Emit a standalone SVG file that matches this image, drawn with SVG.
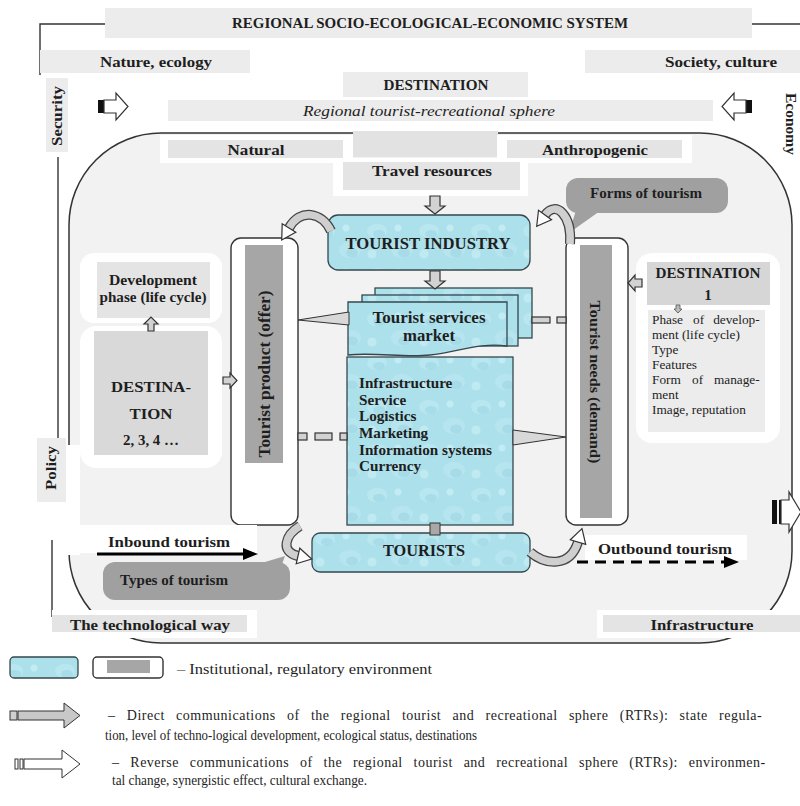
<svg xmlns="http://www.w3.org/2000/svg" width="800" height="806" viewBox="0 0 800 806">
<defs>
<pattern id="water" patternUnits="userSpaceOnUse" width="52" height="44">
<rect width="52" height="44" fill="#ace0eb"/>
<ellipse cx="13" cy="11" rx="10" ry="7" fill="#bde8f1" opacity="0.8"/>
<ellipse cx="38" cy="30" rx="11" ry="8" fill="#bae6f0" opacity="0.8"/>
<ellipse cx="15" cy="14" rx="6" ry="4" fill="#a0d8e6" opacity="0.7"/>
<ellipse cx="40" cy="33" rx="6" ry="4.5" fill="#a0d8e6" opacity="0.7"/>
<circle cx="34" cy="8" r="3.5" fill="#c9eef5" opacity="0.8"/>
<circle cx="8" cy="34" r="4.5" fill="#c4ecf4" opacity="0.8"/>
</pattern>
<style>
.b{font-family:"Liberation Serif","Times New Roman",serif;font-weight:bold;fill:#1e1e1e}
.r{font-family:"Liberation Serif","Times New Roman",serif;fill:#1e1e1e}
.lbl{fill:#ececec}
.lbl2{fill:#e4e4e4}
.wb{fill:#ffffff}
.wat{fill:url(#water);stroke:#34474d;stroke-width:1.3}
.ln{stroke:#333;fill:none;stroke-width:1.4}
.box{fill:#ffffff;stroke:#333;stroke-width:1.4}
.bar{fill:#a6a6a6}
.cal{fill:#a0a0a0}
.blk{fill:#d2d2d2;stroke:#333;stroke-width:1.2}
.cu1{fill:none;stroke:#444;stroke-width:10}
.cu2{fill:none;stroke:#cfcfcf;stroke-width:7.5}
.head{fill:#ffffff;stroke:#333;stroke-width:1.2}
</style>
</defs>
<rect width="800" height="806" fill="#ffffff"/>

<g id="frame">
<path class="ln" d="M40,75 V24 H105"/>
<path class="ln" d="M752,24 H800"/>
<path class="ln" d="M58,157 V438"/>
<path class="ln" d="M52,540 V617"/>
</g>

<g id="title">
<rect x="105" y="8" width="647" height="30" class="lbl"/>
<text x="430" y="28" text-anchor="middle" class="b" font-size="15" textLength="396" lengthAdjust="spacingAndGlyphs">REGIONAL SOCIO-ECOLOGICAL-ECONOMIC SYSTEM</text>
</g>
<g id="nature">
<rect x="40" y="50" width="210" height="23" class="lbl"/>
<text x="156" y="67" text-anchor="middle" class="b" font-size="15" textLength="112" lengthAdjust="spacingAndGlyphs">Nature, ecology</text>
</g>
<g id="society">
<rect x="585" y="50" width="215" height="23" class="lbl"/>
<text x="721" y="67" text-anchor="middle" class="b" font-size="15" textLength="112" lengthAdjust="spacingAndGlyphs">Society, culture</text>
</g>
<g id="destination-top">
<rect x="343" y="72" width="185" height="25" class="lbl"/>
<text x="436" y="90" text-anchor="middle" class="b" font-size="15" textLength="105" lengthAdjust="spacingAndGlyphs">DESTINATION</text>
</g>
<g id="sphere">
<rect x="168" y="100" width="545" height="21" class="lbl"/>
<text x="429" y="116" text-anchor="middle" class="r" font-size="15" font-style="italic" textLength="252" lengthAdjust="spacingAndGlyphs">Regional tourist-recreational sphere</text>
</g>
<g id="security">
<rect x="46" y="78" width="22" height="74" class="lbl"/>
<text transform="translate(62,116) rotate(-90)" text-anchor="middle" class="b" font-size="14" textLength="60" lengthAdjust="spacingAndGlyphs">Security</text>
</g>
<g id="economy">
<text transform="translate(786,93) rotate(90)" class="b" font-size="14" textLength="62" lengthAdjust="spacingAndGlyphs">Economy</text>
</g>

<g id="arrow-top-left">
<rect x="98" y="100" width="6" height="13" fill="#111"/>
<path d="M104,100 H116 V93 L128,106.5 L116,120 V113 H104 Z" class="head"/>
</g>
<g id="arrow-top-right">
<rect x="746" y="100" width="6" height="13" fill="#111"/>
<path d="M746,100 H734 V93 L722,106.5 L734,120 V113 H746 Z" class="head"/>
</g>

<g id="sphere-area">
<rect x="69" y="133" width="723" height="510" rx="92" fill="#f2f2f2" stroke="#333" stroke-width="1.5"/>
</g>

<g id="policy">
<rect x="64" y="445" width="16" height="110" class="wb"/>
<rect x="37" y="438" width="29" height="64" class="lbl"/>
<text transform="translate(56,468) rotate(-90)" text-anchor="middle" class="b" font-size="14" textLength="44" lengthAdjust="spacingAndGlyphs">Policy</text>
</g>

<g id="arrow-bottom-right">
<rect x="772" y="500" width="5" height="24" fill="#111"/>
<rect x="779" y="500" width="2" height="24" fill="#111"/>
<path d="M781,500 H789 V492 L801,512 L789,532 V524 H781 Z" class="head"/>
</g>

<g id="natural">
<rect x="160" y="135" width="193" height="28" class="wb"/>
<rect x="168" y="140" width="175" height="18" class="lbl2"/>
<text x="256" y="155" text-anchor="middle" class="b" font-size="15" textLength="57" lengthAdjust="spacingAndGlyphs">Natural</text>
</g>
<g id="middle-box">
<rect x="353" y="131" width="145" height="26" fill="#e2e2e2"/>
</g>
<g id="anthropogenic">
<rect x="497" y="135" width="195" height="28" class="wb"/>
<rect x="507" y="140" width="175" height="18" class="lbl2"/>
<text x="595" y="155" text-anchor="middle" class="b" font-size="15" textLength="106" lengthAdjust="spacingAndGlyphs">Anthropogenic</text>
</g>
<g id="travel-resources">
<rect x="333" y="158" width="195" height="38" class="wb"/>
<rect x="343" y="162" width="177" height="28" class="lbl2"/>
<text x="432" y="176" text-anchor="middle" class="b" font-size="15.5" textLength="120" lengthAdjust="spacingAndGlyphs">Travel resources</text>
</g>

<g id="forms-of-tourism">
<path d="M578,204 L600,211 L569,233 Z" class="cal"/>
<rect x="566" y="178" width="162" height="35" rx="12" class="cal"/>
<text x="646" y="198" text-anchor="middle" class="b" font-size="15" textLength="112" lengthAdjust="spacingAndGlyphs">Forms of tourism</text>
</g>

<g id="tourist-industry">
<rect x="328" y="215" width="202" height="55" rx="10" class="wat"/>
<text x="428" y="249" text-anchor="middle" class="b" font-size="16.5" textLength="165" lengthAdjust="spacingAndGlyphs">TOURIST INDUSTRY</text>
</g>

<g id="development-phase">
<rect x="80" y="253" width="142" height="70" rx="14" class="wb"/>
<rect x="97" y="262" width="113" height="56" class="lbl2"/>
<text x="153" y="285" text-anchor="middle" class="b" font-size="15" textLength="88" lengthAdjust="spacingAndGlyphs">Development</text>
<text x="153" y="302" text-anchor="middle" class="b" font-size="15" textLength="107" lengthAdjust="spacingAndGlyphs">phase (life cycle)</text>
</g>
<g id="destination-2-3-4">
<rect x="80" y="326" width="142" height="142" rx="16" class="wb"/>
<rect x="94" y="331" width="114" height="124" fill="#d9d9d9"/>
<text x="151" y="392" text-anchor="middle" class="b" font-size="15.5" textLength="80" lengthAdjust="spacingAndGlyphs">DESTINA-</text>
<text x="151" y="419" text-anchor="middle" class="b" font-size="15.5" textLength="43" lengthAdjust="spacingAndGlyphs">TION</text>
<text x="151" y="445" text-anchor="middle" class="b" font-size="15" textLength="56" lengthAdjust="spacingAndGlyphs">2, 3, 4 …</text>
</g>

<g id="tourist-product">
<rect x="231" y="238" width="67" height="287" rx="10" class="box"/>
<rect x="245" y="245" width="38" height="218" class="bar"/>
<text transform="translate(270,374) rotate(-90)" text-anchor="middle" class="b" font-size="16" textLength="167" lengthAdjust="spacingAndGlyphs">Tourist product (offer)</text>
</g>
<g id="tourist-needs">
<rect x="566" y="238" width="62" height="287" rx="10" class="box"/>
<rect x="580" y="245" width="32" height="273" class="bar"/>
<text transform="translate(590,382) rotate(90)" text-anchor="middle" class="b" font-size="15.5" textLength="163" lengthAdjust="spacingAndGlyphs">Tourist needs (demand)</text>
</g>

<g id="destination-1">
<rect x="636" y="253" width="144" height="190" rx="16" class="wb"/>
<rect x="647" y="262" width="123" height="43" fill="#d6d6d6"/>
<text x="708" y="278" text-anchor="middle" class="b" font-size="15" textLength="105" lengthAdjust="spacingAndGlyphs">DESTINATION</text>
<text x="708" y="300" text-anchor="middle" class="b" font-size="15">1</text>
<rect x="648" y="310" width="117" height="122" fill="#ececec"/>
<text class="r" font-size="13.3">
<tspan x="652" y="324">Phase</tspan>
<tspan x="693" y="324">of</tspan>
<tspan x="763" y="324" text-anchor="end">develop-</tspan>
<tspan x="652" y="339">ment (life cycle)</tspan>
<tspan x="652" y="354">Type</tspan>
<tspan x="652" y="369">Features</tspan>
<tspan x="652" y="384">Form</tspan>
<tspan x="692" y="384">of</tspan>
<tspan x="763" y="384" text-anchor="end">manage-</tspan>
<tspan x="652" y="399">ment</tspan>
<tspan x="652" y="414">Image, reputation</tspan>
</text>
<path d="M676,305 V309 H674 L678,313 L682,309 H680 V305 Z" fill="#bbb" stroke="#555" stroke-width="0.8"/>
</g>

<g id="services-market">
<rect x="375" y="288" width="157" height="50" class="wat"/>
<rect x="362" y="295" width="156" height="51" class="wat"/>
<path d="M348,302 H507 V346 C480,342 458,352 430,355 C405,358 375,352 348,355 Z" class="wat"/>
<text x="429" y="323" text-anchor="middle" class="b" font-size="16" textLength="113" lengthAdjust="spacingAndGlyphs">Tourist services</text>
<text x="429" y="341" text-anchor="middle" class="b" font-size="16" textLength="52" lengthAdjust="spacingAndGlyphs">market</text>
</g>

<g id="infrastructure-box">
<rect x="347" y="357" width="166" height="168" class="wat"/>
<text class="b" font-size="15.2">
<tspan x="359" y="388">Infrastructure</tspan>
<tspan x="359" y="405">Service</tspan>
<tspan x="359" y="421">Logistics</tspan>
<tspan x="359" y="438">Marketing</tspan>
<tspan x="359" y="455">Information systems</tspan>
<tspan x="359" y="471">Currency</tspan>
</text>
</g>

<g id="tourists">
<rect x="312" y="533" width="218" height="39" rx="8" class="wat"/>
<text x="424" y="556" text-anchor="middle" class="b" font-size="16" textLength="82" lengthAdjust="spacingAndGlyphs">TOURISTS</text>
</g>

<g id="inbound-tourism">
<rect x="78" y="525" width="179" height="28" class="wb"/>
<text x="108" y="547" class="b" font-size="15.5" textLength="122" lengthAdjust="spacingAndGlyphs">Inbound tourism</text>
</g>
<g id="types-of-tourism">
<path d="M255,565 L276,580 L285,556 Z" class="cal"/>
<rect x="103" y="562" width="187" height="38" rx="12" class="cal"/>
<text x="174" y="585" text-anchor="middle" class="b" font-size="15" textLength="108" lengthAdjust="spacingAndGlyphs">Types of tourism</text>
</g>
<g id="technological-way">
<rect x="52" y="610" width="205" height="28" class="wb"/>
<rect x="52" y="615" width="195" height="17" class="lbl2"/>
<text x="150" y="630" text-anchor="middle" class="b" font-size="15.5" textLength="160" lengthAdjust="spacingAndGlyphs">The technological way</text>
</g>
<g id="outbound-tourism">
<rect x="585" y="535" width="162" height="25" class="wb"/>
<text x="665" y="554" text-anchor="middle" class="b" font-size="15.5" textLength="134" lengthAdjust="spacingAndGlyphs">Outbound tourism</text>
</g>
<g id="infrastructure">
<rect x="597" y="610" width="203" height="28" class="wb"/>
<rect x="603" y="615" width="197" height="17" class="lbl2"/>
<text x="702" y="630" text-anchor="middle" class="b" font-size="15.5" textLength="103" lengthAdjust="spacingAndGlyphs">Infrastructure</text>
</g>

<g id="connectors">
<path d="M430,196 H440 V206 H445 L435,214 L425,206 H430 Z" class="blk"/>
<path d="M430,271 H440 V281 H445 L435,289 L425,281 H430 Z" class="blk"/>
<rect x="430" y="523" width="10" height="12" fill="#a8a8a8" stroke="#333" stroke-width="1"/>
<path d="M148,331 V324 H144 L151,317 L158,324 H154 V331 Z" class="blk"/>
<path d="M223,377 H230 V373 L237,380.5 L230,388 V384 H223 Z" class="blk"/>
<path d="M642,279 H635 V275 L628,283 L635,291 V287 H642 Z" class="blk"/>
<path d="M349,312 L349,325 L298,320 Z" fill="#d8d8d8" stroke="#333" stroke-width="1"/>
<rect x="532" y="317" width="18" height="6" class="blk"/>
<rect x="557" y="317" width="9" height="6" class="blk"/>
<rect x="298" y="433" width="9" height="7" class="blk"/>
<rect x="315" y="433" width="17" height="7" class="blk"/>
<rect x="340" y="433" width="7" height="7" class="blk"/>
<path d="M513,430 L513,445 L566,437 Z" fill="#d8d8d8" stroke="#333" stroke-width="1"/>
<path class="cu1" d="M331,231 C322,212 300,208 289,228"/>
<path class="cu2" d="M331,231 C322,212 300,208 289,228"/>
<path class="head" d="M295.8,232.2 L281.7,240 L282.2,223.8 Z"/>
<path class="cu1" d="M570,244 C572,215 556,200 545,215"/>
<path class="cu2" d="M570,244 C572,215 556,200 545,215"/>
<path class="head" d="M551.5,219.7 L536.7,226.3 L538.5,210.3 Z"/>
<path class="cu1" d="M300,526 C285,535 280,552 298,556"/>
<path class="cu2" d="M300,526 C285,535 280,552 298,556"/>
<path class="head" d="M296.2,563.8 L311.7,559 L299.8,548.2 Z"/>
<path class="cu1" d="M530,552 C545,565 570,568 578,542"/>
<path class="cu2" d="M530,552 C545,565 570,568 578,542"/>
<path class="head" d="M585.7,544.3 L582,528.6 L570.3,539.7 Z"/>
<path d="M97,554 H245" stroke="#000" stroke-width="3.2"/>
<path d="M243,548 L258,554 L243,560 Z" fill="#000"/>
<path d="M577,562 H726" stroke="#000" stroke-width="3.2" stroke-dasharray="11,7"/>
<path d="M724,556 L739,562 L724,568 Z" fill="#000"/>
</g>

<g id="legend">
<rect x="10" y="657" width="68" height="21" rx="4" class="wat"/>
<rect x="93" y="657" width="70" height="21" rx="4" class="box"/>
<rect x="107" y="660" width="43" height="13" class="bar"/>
<text x="177" y="674" class="r" font-size="15" textLength="255" lengthAdjust="spacingAndGlyphs">– Institutional, regulatory environment</text>
<rect x="10" y="711" width="7" height="9" fill="#cfcfcf" stroke="#333" stroke-width="1"/>
<path d="M18,711 H64 V703 L80,715.5 L64,728 V720 H18 Z" fill="#c8c8c8" stroke="#333" stroke-width="1"/>
<text x="108" y="720" class="r" font-size="14" style="letter-spacing:0.5px;word-spacing:7.3px">– Direct communications of the regional tourist and recreational sphere (RTRs): state regula-</text>
<text x="105" y="740" class="r" font-size="14" textLength="372" lengthAdjust="spacingAndGlyphs">tion, level of techno-logical development, ecological status, destinations</text>
<rect x="15" y="759" width="3" height="10" fill="#fff" stroke="#333" stroke-width="1"/>
<rect x="20" y="759" width="3" height="10" fill="#fff" stroke="#333" stroke-width="1"/>
<path d="M24,759 H62 V750 L80,764 L62,778 V769 H24 Z" fill="#fff" stroke="#333" stroke-width="1"/>
<text x="112" y="767" class="r" font-size="14" style="letter-spacing:0.5px;word-spacing:6.8px">– Reverse communications of the regional tourist and recreational sphere (RTRs): environmen-</text>
<text x="112" y="785" class="r" font-size="14" textLength="255" lengthAdjust="spacingAndGlyphs">tal change, synergistic effect, cultural exchange.</text>
</g>
</svg>
